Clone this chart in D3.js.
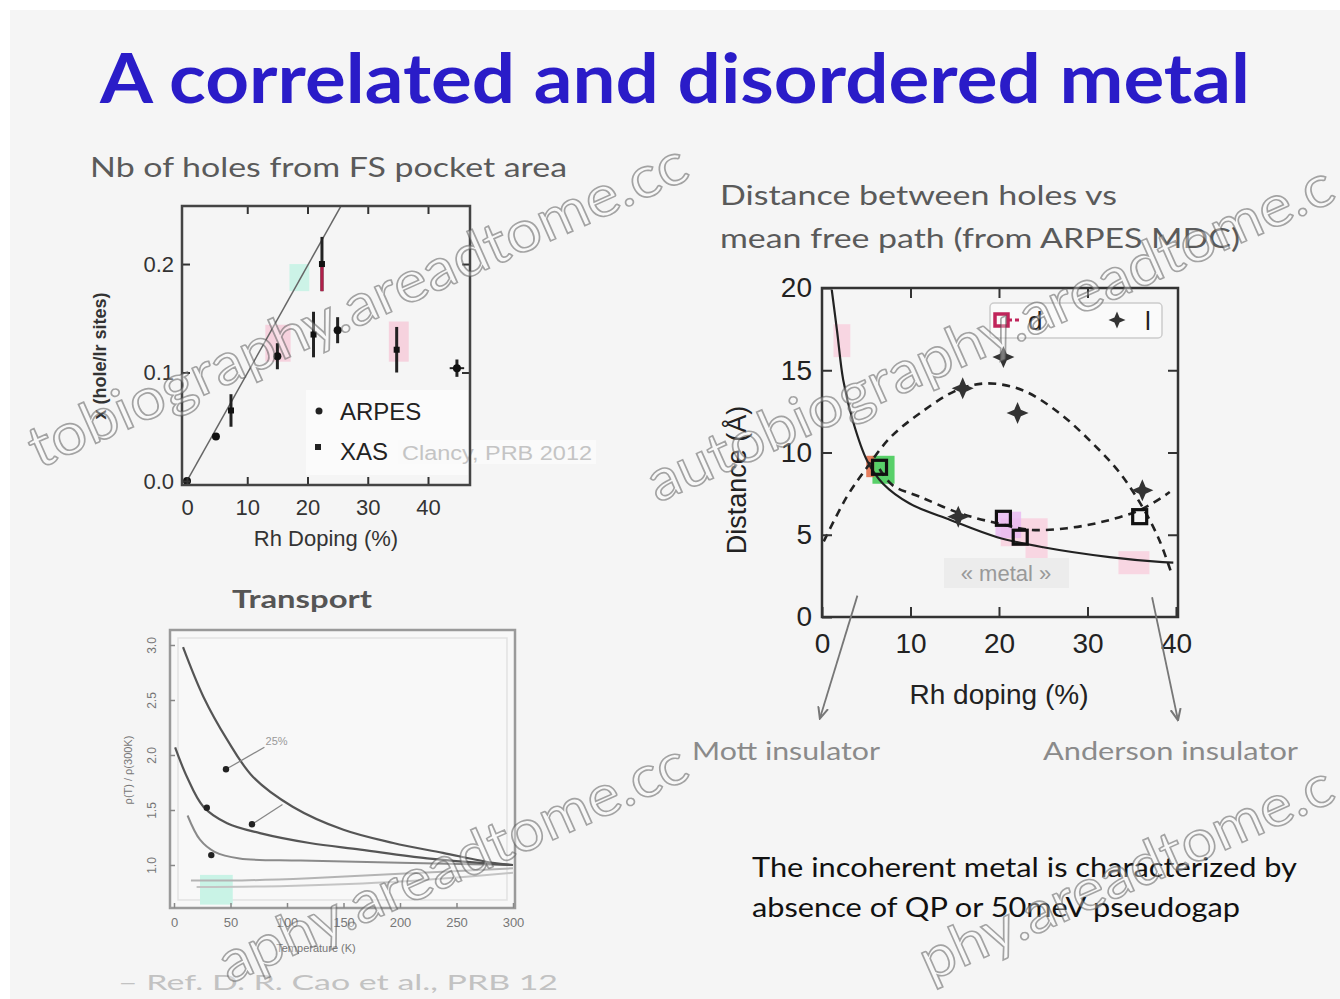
<!DOCTYPE html>
<html>
<head>
<meta charset="utf-8">
<script src="https://cdn.jsdelivr.net/npm/d3@7"></script>
<style>
  html, body { margin: 0; padding: 0; background: #ffffff; }
  svg { display: block; }
</style>
</head>
<body>
<script>
// ---------- slide text ----------
const slideTitle = "A correlated and disordered metal";
const holesCaption = "Nb of holes from FS pocket area";
const distanceCaption = ["Distance between holes vs", "mean free path (from ARPES MDC)"];
const transportCaption = "Transport";
const conclusionLines = ["The incoherent metal is characterized by", "absence of QP or 50meV pseudogap"];

// ---------- panel 1 : holes per Ir site vs Rh doping ----------
const holesTicksX = [0, 10, 20, 30, 40];
const holesTicksY = [0.0, 0.1, 0.2];
const arpesDoping = [0, 4.8, 15, 25, 44.8];
const arpesHoles  = [0, 0.041, 0.115, 0.139, 0.104];
const arpesErr    = [0, 0, 0.012, 0.012, 0.008];
const xasDoping   = [7.3, 21, 22.4, 34.8];
const xasHoles    = [0.065, 0.135, 0.2, 0.121];
const xasErr      = [0.015, 0.021, 0.025, 0.021];
const nominalDoping = [0, 25.5];
const nominalHoles  = [0, 0.253];

// ---------- panel 2 : distance vs Rh doping ----------
const distTicksX = [0, 10, 20, 30, 40];
const distTicksY = [0, 5, 10, 15, 20];
const holeSpacingDoping = [1.1, 1.7, 2.4, 3.5, 5.1, 6.9, 9.9, 14.5, 19.8, 25, 32.5, 38.5, 39.7];
const holeSpacing       = [19.9, 17.4, 14.4, 11.9, 9.5, 8.1, 6.9, 5.9, 4.85, 4.24, 3.64, 3.33, 3.3];
const lCurveDoping = [0.2, 2.8, 5.1, 7.7, 11.1, 15.3, 18.6, 22.6, 26.8, 30.5, 33.6, 36.2, 38.1, 39.4];
const lCurve       = [4.6, 7.3, 9.1, 10.9, 12.4, 13.8, 14.2, 13.8, 12.4, 10.6, 8.8, 6.7, 4.7, 2.8];
const dCurveDoping = [6.5, 8.0, 11.1, 15.6, 19.8, 23.5, 27.7, 31.8, 35.9, 38.5, 39.3];
const dCurve       = [9.0, 8.0, 7.3, 6.3, 5.7, 5.3, 5.4, 5.8, 6.5, 7.3, 7.6];
const dPointDoping = [6.5, 20.5, 22.4, 35.9];
const dPoint       = [9.1, 6.0, 4.85, 6.1];
const lPointDoping = [20.5, 15.9, 22.1, 36.2, 15.4];
const lPoint       = [15.8, 13.9, 12.4, 7.7, 6.1];

// ---------- panel 3 : resistivity vs temperature ----------
const tempTicks = [0, 50, 100, 150, 200, 250, 300];
const rhoTicks = [1.0, 1.5, 2.0, 2.5, 3.0];
const rhoA_T = [8, 26, 47, 70, 105, 150, 194, 238, 282, 300];
const rhoA   = [2.98, 2.53, 2.14, 1.80, 1.53, 1.32, 1.20, 1.11, 1.02, 1.0];
const rhoB_T = [1, 11.5, 26, 47, 76, 120, 165, 224, 282, 300];
const rhoB   = [2.07, 1.80, 1.53, 1.38, 1.29, 1.20, 1.14, 1.06, 1.01, 1.0];
const rhoC_T = [12, 23, 36, 58, 112, 200, 300];
const rhoC   = [1.45, 1.23, 1.12, 1.06, 1.04, 1.02, 1.0];
const rhoD_T = [15, 60, 120, 200, 300];
const rhoD   = [0.86, 0.86, 0.88, 0.92, 0.97];
const rhoE_T = [20, 100, 200, 300];
const rhoE   = [0.80, 0.81, 0.85, 0.93];

const zip = (xs, ys) => xs.map((x, i) => [x, ys[i]]);

const svg = d3.select("body").append("svg")
  .attr("width", 1340).attr("height", 999);

// slide background
svg.append("rect").attr("x", 10).attr("y", 10).attr("width", 1330).attr("height", 989)
  .attr("fill", "#f5f5f5");

const sans = "'Liberation Sans', Arial, sans-serif";
const slideFont = "Lato, 'Open Sans', sans-serif";

// title and captions
svg.append("text").attr("x", 100).attr("y", 103)
  .attr("font-family", slideFont).attr("font-weight", 700).attr("font-size", 68)
  .attr("fill", "#2a1cc8").attr("textLength", 1150).attr("lengthAdjust", "spacingAndGlyphs")
  .text(slideTitle);

svg.append("text").attr("x", 90).attr("y", 177)
  .attr("font-family", slideFont).attr("font-size", 26).attr("fill", "#5a5a5a")
  .attr("textLength", 477).attr("lengthAdjust", "spacingAndGlyphs").text(holesCaption);

distanceCaption.forEach((t, i) => {
  svg.append("text").attr("x", 720).attr("y", 205 + i * 43)
    .attr("font-family", slideFont).attr("font-size", 27).attr("fill", "#5a5a5a")
    .attr("textLength", i === 0 ? 397 : 520).attr("lengthAdjust", "spacingAndGlyphs").text(t);
});

svg.append("text").attr("x", 232).attr("y", 608)
  .attr("font-family", slideFont).attr("font-weight", 700).attr("font-size", 24).attr("fill", "#555")
  .attr("textLength", 140).attr("lengthAdjust", "spacingAndGlyphs").text(transportCaption);

conclusionLines.forEach((t, i) => {
  svg.append("text").attr("x", 752).attr("y", 877 + i * 40)
    .attr("font-family", slideFont).attr("font-size", 26).attr("fill", "#111")
    .attr("textLength", i === 0 ? 545 : 488).attr("lengthAdjust", "spacingAndGlyphs").text(t);
});

// helper for inward ticks and styled labels
function styleAxis(g, fontSize, color) {
  g.select(".domain").remove();
  g.selectAll(".tick line").attr("stroke", "#333").attr("stroke-width", 2);
  g.selectAll(".tick text").attr("font-family", sans).attr("font-size", fontSize).attr("fill", color);
}

// =============== panel 1 ===============
const x1 = d3.scaleLinear().domain([-0.83, 46.97]).range([182, 470]);
const y1 = d3.scaleLinear().domain([-0.0037, 0.2535]).range([485, 206]);
const p1 = svg.append("g");

// coloured patches
p1.append("rect").attr("x", x1(13)).attr("y", y1(0.144)).attr("width", x1(17.2) - x1(13)).attr("height", y1(0.11) - y1(0.144))
  .attr("fill", "#f6c9d8").attr("opacity", 0.8);
p1.append("rect").attr("x", x1(33.5)).attr("y", y1(0.147)).attr("width", x1(36.8) - x1(33.5)).attr("height", y1(0.11) - y1(0.147))
  .attr("fill", "#f6c9d8").attr("opacity", 0.8);
p1.append("rect").attr("x", x1(17)).attr("y", y1(0.2)).attr("width", x1(20.3) - x1(17)).attr("height", y1(0.175) - y1(0.2))
  .attr("fill", "#c8f3e6").attr("opacity", 0.9);

const clip1 = svg.append("clipPath").attr("id", "clip1");
clip1.append("rect").attr("x", 182).attr("y", 206).attr("width", 288).attr("height", 279);

p1.append("path").datum(zip(nominalDoping, nominalHoles))
  .attr("clip-path", "url(#clip1)")
  .attr("d", d3.line().x(d => x1(d[0])).y(d => y1(d[1])))
  .attr("fill", "none").attr("stroke", "#666").attr("stroke-width", 1.5);

// error bars
const errData = zip(arpesDoping, arpesHoles).map((d, i) => [d[0], d[1], arpesErr[i]])
  .concat(zip(xasDoping, xasHoles).map((d, i) => [d[0], d[1], xasErr[i]]));
p1.selectAll(".err").data(errData.filter(d => d[2] > 0)).enter().append("line")
  .attr("x1", d => x1(d[0])).attr("x2", d => x1(d[0]))
  .attr("y1", d => y1(d[1] - d[2])).attr("y2", d => y1(d[1] + d[2]))
  .attr("stroke", "#222").attr("stroke-width", 3);
p1.append("line").attr("x1", x1(22.4)).attr("x2", x1(22.4)).attr("y1", y1(0.2)).attr("y2", y1(0.175))
  .attr("stroke", "#b0204a").attr("stroke-width", 3);
p1.append("line").attr("x1", x1(43.6)).attr("x2", x1(46)).attr("y1", y1(0.104)).attr("y2", y1(0.104))
  .attr("stroke", "#222").attr("stroke-width", 2);

p1.selectAll(".arpes").data(zip(arpesDoping, arpesHoles)).enter().append("circle")
  .attr("cx", d => x1(d[0])).attr("cy", d => y1(d[1])).attr("r", 4).attr("fill", "#111");
p1.selectAll(".xas").data(zip(xasDoping, xasHoles)).enter().append("rect")
  .attr("x", d => x1(d[0]) - 3).attr("y", d => y1(d[1]) - 3).attr("width", 6).attr("height", 6).attr("fill", "#111");

// legend
p1.append("rect").attr("x", 306).attr("y", 390).attr("width", 162).attr("height", 85).attr("fill", "#fbfbfb");
p1.append("circle").attr("cx", 319).attr("cy", 411).attr("r", 3.5).attr("fill", "#222");
p1.append("rect").attr("x", 315).attr("y", 444).attr("width", 6).attr("height", 6).attr("fill", "#222");
p1.append("text").attr("x", 340).attr("y", 420).attr("font-family", sans).attr("font-size", 24).attr("fill", "#222").text("ARPES");
p1.append("text").attr("x", 340).attr("y", 460).attr("font-family", sans).attr("font-size", 24).attr("fill", "#222").text("XAS");
p1.append("rect").attr("x", 398).attr("y", 440).attr("width", 198).attr("height", 24).attr("fill", "#fafafa");
p1.append("text").attr("x", 402).attr("y", 460).attr("font-family", sans).attr("font-size", 20).attr("fill", "#c4c4c4")
  .attr("textLength", 190).attr("lengthAdjust", "spacingAndGlyphs").text("Clancy, PRB 2012");

// axes and frame
const ax1b = p1.append("g").attr("transform", "translate(0,485)")
  .call(d3.axisBottom(x1).tickValues(holesTicksX).tickSizeInner(-8).tickSizeOuter(0).tickPadding(14).tickFormat(d3.format("d")));
styleAxis(ax1b, 22, "#333");
const ax1t = p1.append("g").attr("transform", "translate(0,206)")
  .call(d3.axisTop(x1).tickValues(holesTicksX.slice(1)).tickSizeInner(-8).tickSizeOuter(0).tickFormat(""));
styleAxis(ax1t, 1, "none");
const ax1l = p1.append("g").attr("transform", "translate(182,0)")
  .call(d3.axisLeft(y1).tickValues(holesTicksY).tickSizeInner(-8).tickSizeOuter(0).tickPadding(8).tickFormat(d3.format(".1f")));
styleAxis(ax1l, 22, "#333");
const ax1r = p1.append("g").attr("transform", "translate(470,0)")
  .call(d3.axisRight(y1).tickValues(holesTicksY.slice(1)).tickSizeInner(-8).tickSizeOuter(0).tickFormat(""));
styleAxis(ax1r, 1, "none");
p1.append("rect").attr("x", 182).attr("y", 206).attr("width", 288).attr("height", 279)
  .attr("fill", "none").attr("stroke", "#444").attr("stroke-width", 2.5);

p1.append("text").attr("x", 326).attr("y", 546).attr("text-anchor", "middle")
  .attr("font-family", sans).attr("font-size", 22).attr("fill", "#333").text("Rh Doping (%)");
p1.append("text").attr("transform", "translate(106,356) rotate(-90)").attr("text-anchor", "middle")
  .attr("font-family", sans).attr("font-weight", 700).attr("font-size", 18).attr("fill", "#333").text("x (hole/Ir sites)");

// =============== panel 2 ===============
const x2 = d3.scaleLinear().domain([0, 40.23]).range([822, 1178]);
const y2 = d3.scaleLinear().domain([0, 20]).range([617, 288]);
const p2 = svg.append("g");

// coloured patches
const patch2 = (a, b, c, d, fill, op) => p2.append("rect")
  .attr("x", x2(a)).attr("y", y2(d)).attr("width", x2(b) - x2(a)).attr("height", y2(c) - y2(d))
  .attr("fill", fill).attr("opacity", op);
patch2(1.3, 3.2, 15.8, 17.8, "#f8d3e0", 0.9);
patch2(20.2, 25.5, 4.3, 6.0, "#f8d3e0", 0.9);
patch2(23.0, 25.5, 2.2, 4.3, "#f8d3e0", 0.9);
patch2(33.5, 37.0, 2.6, 4.0, "#f8d3e0", 0.9);
patch2(19.6, 22.5, 4.8, 6.4, "#e9b8f2", 0.8);
patch2(5.7, 8.2, 8.1, 9.8, "#47cc5a", 0.9);
patch2(5.0, 5.9, 8.5, 9.8, "#e2603a", 0.8);

const line2 = d3.line().x(d => x2(d[0])).y(d => y2(d[1])).curve(d3.curveCatmullRom.alpha(0.5));
p2.append("path").datum(zip(holeSpacingDoping, holeSpacing)).attr("d", line2)
  .attr("fill", "none").attr("stroke", "#222").attr("stroke-width", 2.2);
p2.append("path").datum(zip(lCurveDoping, lCurve)).attr("d", line2)
  .attr("fill", "none").attr("stroke", "#222").attr("stroke-width", 2.6).attr("stroke-dasharray", "8,6");
p2.append("path").datum(zip(dCurveDoping, dCurve)).attr("d", line2)
  .attr("fill", "none").attr("stroke", "#222").attr("stroke-width", 2.6).attr("stroke-dasharray", "8,6");

// four-point star used for the mean free path markers
const sparkle = {
  draw(ctx, size) {
    const r = Math.sqrt(size) * 0.9, w = r * 0.3;
    ctx.moveTo(0, -r); ctx.lineTo(w, -w); ctx.lineTo(r, 0); ctx.lineTo(w, w);
    ctx.lineTo(0, r); ctx.lineTo(-w, w); ctx.lineTo(-r, 0); ctx.lineTo(-w, -w); ctx.closePath();
  }
};
p2.selectAll(".lpt").data(zip(lPointDoping, lPoint)).enter().append("path")
  .attr("transform", d => `translate(${x2(d[0])},${y2(d[1])})`)
  .attr("d", d3.symbol().type(sparkle).size(150)).attr("fill", "#333");
p2.selectAll(".dpt").data(zip(dPointDoping, dPoint)).enter().append("rect")
  .attr("x", d => x2(d[0]) - 7).attr("y", d => y2(d[1]) - 7).attr("width", 14).attr("height", 14)
  .attr("fill", "none").attr("stroke", "#111").attr("stroke-width", 3.2);

// legend
p2.append("rect").attr("x", 990).attr("y", 303).attr("width", 172).attr("height", 35)
  .attr("fill", "#fafafa").attr("stroke", "#ccc").attr("stroke-width", 1.5).attr("rx", 4);
p2.append("rect").attr("x", 995).attr("y", 314).attr("width", 13).attr("height", 12)
  .attr("fill", "none").attr("stroke", "#c0245a").attr("stroke-width", 3.5);
p2.append("line").attr("x1", 1008).attr("x2", 1022).attr("y1", 320).attr("y2", 320).attr("stroke", "#c0245a").attr("stroke-width", 3).attr("stroke-dasharray", "4,3");
p2.append("text").attr("x", 1028).attr("y", 330).attr("font-family", sans).attr("font-size", 26).attr("fill", "#222").text("d");
p2.append("path").attr("transform", "translate(1117,320)").attr("d", d3.symbol().type(sparkle).size(90)).attr("fill", "#333");
p2.append("text").attr("x", 1145).attr("y", 330).attr("font-family", sans).attr("font-size", 26).attr("fill", "#222").text("l");

// axes and frame
const ax2b = p2.append("g").attr("transform", "translate(0,617)")
  .call(d3.axisBottom(x2).tickValues(distTicksX).tickSizeInner(-10).tickSizeOuter(0).tickPadding(16).tickFormat(d3.format("d")));
styleAxis(ax2b, 28, "#222");
const ax2t = p2.append("g").attr("transform", "translate(0,288)")
  .call(d3.axisTop(x2).tickValues(distTicksX.slice(1, 4)).tickSizeInner(-10).tickSizeOuter(0).tickFormat(""));
styleAxis(ax2t, 1, "none");
const ax2l = p2.append("g").attr("transform", "translate(822,0)")
  .call(d3.axisLeft(y2).tickValues(distTicksY).tickSizeInner(-10).tickSizeOuter(0).tickPadding(10).tickFormat(d3.format("d")));
styleAxis(ax2l, 28, "#222");
const ax2r = p2.append("g").attr("transform", "translate(1178,0)")
  .call(d3.axisRight(y2).tickValues(distTicksY.slice(1, 4)).tickSizeInner(-10).tickSizeOuter(0).tickFormat(""));
styleAxis(ax2r, 1, "none");
p2.append("rect").attr("x", 822).attr("y", 288).attr("width", 356).attr("height", 329)
  .attr("fill", "none").attr("stroke", "#333").attr("stroke-width", 2.5);

p2.append("text").attr("x", 999).attr("y", 704).attr("text-anchor", "middle")
  .attr("font-family", sans).attr("font-size", 28).attr("fill", "#222").text("Rh doping (%)");
p2.append("text").attr("transform", "translate(746,480) rotate(-90)").attr("text-anchor", "middle")
  .attr("font-family", sans).attr("font-size", 27).attr("fill", "#222").text("Distance (Å)");

// metal label and leader lines to the insulating ends
p2.append("rect").attr("x", 944).attr("y", 558).attr("width", 125).attr("height", 30).attr("fill", "#ececec");
p2.append("text").attr("x", 1006).attr("y", 581).attr("text-anchor", "middle")
  .attr("font-family", sans).attr("font-size", 22).attr("fill", "#999").text("« metal »");

const defs = svg.append("defs");
defs.append("marker").attr("id", "arrow").attr("viewBox", "0 0 10 10").attr("refX", 8).attr("refY", 5)
  .attr("markerWidth", 7).attr("markerHeight", 7).attr("orient", "auto")
  .append("path").attr("d", "M0,1 L9,5 L0,9").attr("fill", "none").attr("stroke", "#777").attr("stroke-width", 1.6);
[[[4.0, 1.3], [-0.2, -6.1]], [[37.3, 1.2], [40.2, -6.2]]].forEach(seg => {
  p2.append("line").attr("x1", x2(seg[0][0])).attr("y1", y2(seg[0][1]))
    .attr("x2", x2(seg[1][0])).attr("y2", y2(seg[1][1]))
    .attr("stroke", "#777").attr("stroke-width", 1.8).attr("marker-end", "url(#arrow)");
});
svg.append("text").attr("x", 692).attr("y", 760)
  .attr("font-family", slideFont).attr("font-size", 25).attr("fill", "#8a8a8a")
  .attr("textLength", 188).attr("lengthAdjust", "spacingAndGlyphs").text("Mott insulator");
svg.append("text").attr("x", 1043).attr("y", 760)
  .attr("font-family", slideFont).attr("font-size", 25).attr("fill", "#8a8a8a")
  .attr("textLength", 255).attr("lengthAdjust", "spacingAndGlyphs").text("Anderson insulator");

// =============== panel 3 ===============
const x3 = d3.scaleLinear().domain([0, 300]).range([174, 513]);
const y3 = d3.scaleLinear().domain([1, 3]).range([865, 645]);
const p3 = svg.append("g");

p3.append("rect").attr("x", 170).attr("y", 630).attr("width", 345).attr("height", 278)
  .attr("fill", "#f8f8f8").attr("stroke", "#9a9a9a").attr("stroke-width", 2.5);
p3.append("rect").attr("x", 178).attr("y", 638).attr("width", 329).attr("height", 262)
  .attr("fill", "none").attr("stroke", "#e2e2e2").attr("stroke-width", 1.5);
p3.append("rect").attr("x", x3(23)).attr("y", y3(0.91)).attr("width", x3(52) - x3(23)).attr("height", y3(0.64) - y3(0.91))
  .attr("fill", "#c9f3e6");

const line3 = d3.line().x(d => x3(d[0])).y(d => y3(d[1])).curve(d3.curveCatmullRom.alpha(0.5));
[[rhoE_T, rhoE, "#c4c4c4", 2], [rhoD_T, rhoD, "#b4b4b4", 2], [rhoC_T, rhoC, "#8a8a8a", 2],
 [rhoB_T, rhoB, "#555", 2.2], [rhoA_T, rhoA, "#555", 2.2]].forEach(c => {
  p3.append("path").datum(zip(c[0], c[1])).attr("d", line3)
    .attr("fill", "none").attr("stroke", c[2]).attr("stroke-width", c[3]);
});

// doping labels with pointers
p3.append("line").attr("x1", x3(80)).attr("y1", y3(2.07)).attr("x2", x3(46)).attr("y2", y3(1.87)).attr("stroke", "#888").attr("stroke-width", 1.3);
p3.append("line").attr("x1", x3(96)).attr("y1", y3(1.55)).attr("x2", x3(69)).attr("y2", y3(1.37)).attr("stroke", "#888").attr("stroke-width", 1.3);
[[46, 1.87], [69, 1.37], [29, 1.52], [33, 1.09]].forEach(p => {
  p3.append("circle").attr("cx", x3(p[0])).attr("cy", y3(p[1])).attr("r", 3.2).attr("fill", "#222");
});
p3.append("text").attr("x", x3(81)).attr("y", y3(2.09)).attr("font-family", sans).attr("font-size", 11).attr("fill", "#999").text("25%");

const ax3b = p3.append("g").attr("transform", "translate(0,908)")
  .call(d3.axisBottom(x3).tickValues(tempTicks).tickSizeInner(-5).tickSizeOuter(0).tickPadding(10).tickFormat(d3.format("d")));
styleAxis(ax3b, 13, "#777");
ax3b.selectAll(".tick line").attr("stroke", "#888").attr("stroke-width", 1.5);
const ax3l = p3.append("g").attr("transform", "translate(170,0)")
  .call(d3.axisLeft(y3).tickValues(rhoTicks).tickSizeInner(-5).tickSizeOuter(0).tickPadding(6).tickFormat(d3.format(".1f")));
styleAxis(ax3l, 12, "#777");
ax3l.selectAll(".tick line").attr("stroke", "#888").attr("stroke-width", 1.5);
ax3l.selectAll(".tick text").attr("transform", "rotate(-90)").attr("text-anchor", "middle").attr("x", 0).attr("y", -14).attr("dy", 0);
p3.append("text").attr("x", 316).attr("y", 952).attr("text-anchor", "middle")
  .attr("font-family", sans).attr("font-size", 11).attr("fill", "#777").text("Temperature (K)");
p3.append("text").attr("transform", "translate(132,770) rotate(-90)").attr("text-anchor", "middle")
  .attr("font-family", sans).attr("font-size", 11).attr("fill", "#777").text("ρ(T) / ρ(300K)");

svg.append("text").attr("x", 118).attr("y", 990)
  .attr("font-family", slideFont).attr("font-size", 21).attr("fill", "#c2c2c2")
  .attr("textLength", 440).attr("lengthAdjust", "spacingAndGlyphs").text("– Ref.  D. R. Cao et al., PRB 12");

// =============== tiled watermark (only the parts that fall on the slide) ===============
const wm = svg.append("g").attr("pointer-events", "none");
const perChar = 29.8;
[
  { end: [692, 178], text: "tobiography.areadtome.cc" },
  { end: [1338, 200], text: "autobiography.areadtome.c" },
  { end: [692, 778], text: "aphy.areadtome.cc" },
  { end: [1338, 800], text: "phy.areadtome.c" }
].forEach(w => {
  wm.append("text").attr("transform", `translate(${w.end[0]},${w.end[1]}) rotate(-24)`)
    .attr("text-anchor", "end").attr("font-family", slideFont).attr("font-size", 58)
    .attr("textLength", perChar * w.text.length).attr("lengthAdjust", "spacingAndGlyphs")
    .attr("fill", "rgba(255,255,255,0.35)").attr("stroke", "rgba(80,80,80,0.5)").attr("stroke-width", 1.6)
    .text(w.text);
});
</script>
</body>
</html>
